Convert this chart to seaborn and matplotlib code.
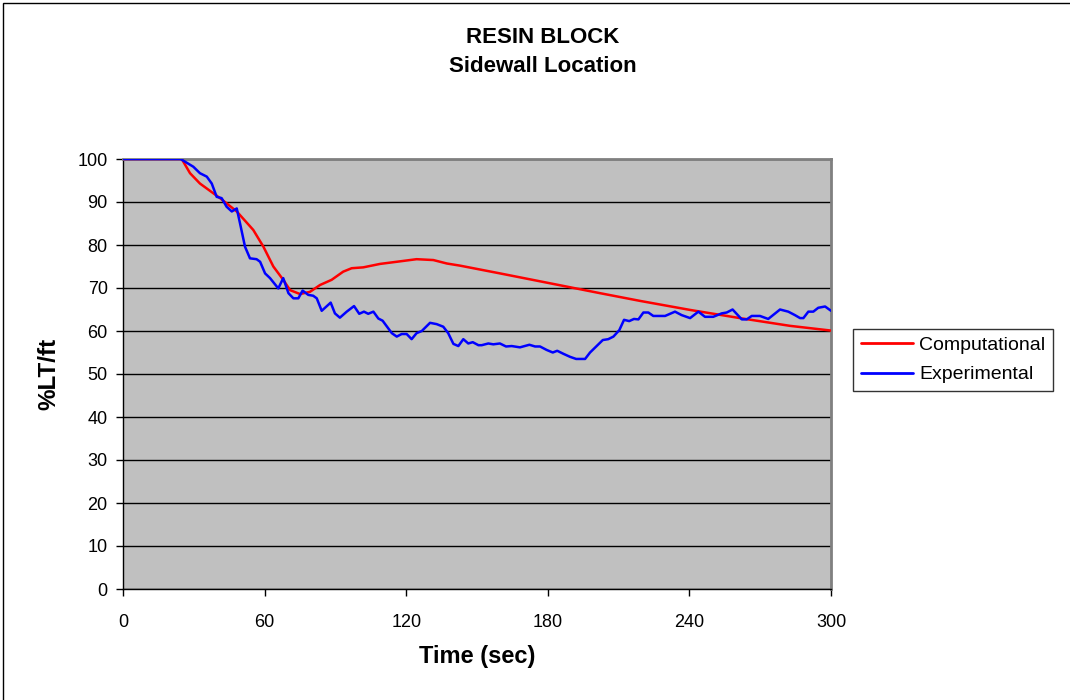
import matplotlib
matplotlib.use("Agg")
import matplotlib.pyplot as plt
import seaborn as sns
import pandas as pd
from matplotlib.patches import Rectangle

# --- data ---
comp_time = [0, 24.9, 28.4, 32.6, 41.1, 48.2, 55.2, 59.5, 63.7, 67.9, 70.8, 75.0,
             79.2, 83.5, 88.4, 93.3, 96.9, 101.8, 108.9, 116.0, 124.4, 131.5, 137.2,
             142.8, 159.7, 180.9, 202.1, 219.1, 240.3, 261.4, 282.6, 300]
comp_val = [100, 100, 96.7, 94.3, 90.9, 87.8, 83.5, 79.6, 75.0, 71.9, 69.5, 68.6,
            69.1, 70.7, 71.9, 73.8, 74.6, 74.8, 75.6, 76.1, 76.7, 76.5, 75.7,
            75.2, 73.4, 71.1, 68.8, 67.0, 64.9, 63.0, 61.2, 60.1]

exp_time = [0, 24.4, 29.8, 32.6, 35.5, 37.6, 39.7, 41.8, 43.9, 46.1, 48.2, 49.6,
            51.7, 53.8, 56.6, 58.1, 60.2, 62.3, 65.8, 67.9, 70.1, 72.2, 74.3, 76.1,
            78.5, 80.6, 82.1, 84.2, 88.0, 89.8, 91.9, 94.8, 97.9, 100.1, 102.1,
            103.9, 106.1, 108.2, 110.0, 113.9, 116.0, 118.1, 120.2, 122.3, 124.4,
            126.6, 130.1, 132.9, 135.7, 137.8, 140.0, 142.1, 144.2, 146.3, 148.2,
            150.6, 152.0, 154.8, 156.9, 159.7, 162.3, 164.7, 168.2, 172.2, 174.6,
            176.7, 179.5, 182.1, 184.0, 186.6, 189.4, 192.0, 195.8, 197.9, 200.7,
            203.3, 205.6, 207.8, 210.3, 212.3, 214.5, 216.5, 218.4, 220.5, 222.6,
            224.7, 229.7, 233.9, 236.7, 240.3, 243.8, 246.6, 250.1, 253.7, 255.8,
            258.3, 262.2, 264.3, 266.4, 269.9, 273.4, 278.4, 281.9, 284.7, 286.9,
            288.3, 290.4, 292.5, 294.6, 297.5, 300]
exp_val = [100, 100, 98.2, 96.7, 95.9, 94.3, 91.2, 90.9, 88.9, 87.8, 88.5, 85.0,
           79.6, 76.9, 76.7, 76.1, 73.4, 72.3, 69.9, 72.3, 68.8, 67.6, 67.6, 69.4,
           68.4, 68.2, 67.6, 64.7, 66.6, 64.1, 63.1, 64.5, 65.8, 64.0, 64.5,
           64.0, 64.5, 62.9, 62.4, 59.5, 58.7, 59.3, 59.3, 58.1, 59.5,
           60.0, 61.9, 61.6, 61.0, 59.5, 57.0, 56.5, 58.1, 57.1, 57.4,
           56.7, 56.7, 57.1, 56.9, 57.1, 56.4, 56.5, 56.2, 56.8, 56.4,
           56.4, 55.6, 55.0, 55.4, 54.7, 54.0, 53.5, 53.5, 55.0, 56.5,
           57.9, 58.1, 58.7, 60.2, 62.6, 62.3, 62.8, 62.7, 64.3, 64.3,
           63.5, 63.5, 64.5, 63.7, 63.0, 64.5, 63.3, 63.3, 64.1, 64.3,
           65.0, 62.7, 62.7, 63.5, 63.5, 62.8, 65.0, 64.5, 63.7, 63.0,
           63.0, 64.5, 64.5, 65.4, 65.7, 64.7]

x_ticks = [0, 60, 120, 180, 240, 300]
y_ticks = list(range(0, 101, 10))

comp_df = pd.DataFrame({"time": comp_time, "value": comp_val})
exp_df = pd.DataFrame({"time": exp_time, "value": exp_val})

sns.set_style("white")
plt.rcParams["font.family"] = ["Liberation Sans", "DejaVu Sans"]
plt.rcParams["text.color"] = "black"
plt.rcParams["axes.labelcolor"] = "black"
plt.rcParams["xtick.color"] = "black"
plt.rcParams["ytick.color"] = "black"

fig = plt.figure(figsize=(10.7, 7), dpi=100)
ax = fig.add_axes([123 / 1070, 1 - 589 / 700, 708 / 1070, 430 / 700])
ax.set_facecolor("#C0C0C0")

sns.lineplot(data=comp_df, x="time", y="value", ax=ax, color="#FF0000",
             linewidth=1.8, label="Computational", zorder=3)
sns.lineplot(data=exp_df, x="time", y="value", ax=ax, color="#0000FF",
             linewidth=1.8, label="Experimental", zorder=3)

ax.set_xlim(0, 300)
ax.set_ylim(0, 100)
ax.set_xticks(x_ticks)
ax.set_yticks(y_ticks)
ax.yaxis.grid(True, color="black", linewidth=1)
ax.xaxis.grid(False)
ax.set_axisbelow(True)
ax.tick_params(axis="both", direction="out", length=5, width=1, color="black",
               labelsize=13, bottom=True, left=True)
ax.tick_params(axis="x", pad=13)
ax.tick_params(axis="y", pad=6)

for side in ["left", "bottom"]:
    ax.spines[side].set_color("black")
    ax.spines[side].set_linewidth(1)
for side in ["top", "right"]:
    ax.spines[side].set_color("#808080")
    ax.spines[side].set_linewidth(2)

ax.set_xlabel("Time (sec)", fontsize=17, fontweight="bold")
ax.set_ylabel("%LT/ft", fontsize=17.5, fontweight="bold")
ax.xaxis.set_label_coords(477 / 1070, 1 - 657 / 700, transform=fig.transFigure)
ax.yaxis.set_label_coords(48.5 / 1070, 1 - 374 / 700, transform=fig.transFigure)
ax.xaxis.label.set_va("center")
ax.yaxis.label.set_va("center")

leg = ax.legend(loc="center left", bbox_to_anchor=(853 / 1070, 1 - 360 / 700),
                bbox_transform=fig.transFigure, borderaxespad=0, frameon=True,
                fancybox=False, fontsize=14, handlelength=2.7,
                borderpad=0.4, labelspacing=0.6, handletextpad=0.3)
leg.get_frame().set_edgecolor("black")
leg.get_frame().set_linewidth(1)
for line in leg.get_lines():
    line.set_linewidth(2)

fig.text(543 / 1070, 1 - 37.5 / 700, "RESIN BLOCK", ha="center", va="center",
         fontsize=16, fontweight="bold")
fig.text(543 / 1070, 1 - 67 / 700, "Sidewall Location", ha="center", va="center",
         fontsize=16, fontweight="bold")

# outer chart border
fig.patches.append(Rectangle((3 / 1070, -0.05), 1.2, 1 - 3 / 700 + 0.05,
                             transform=fig.transFigure, fill=False,
                             edgecolor="black", linewidth=1))

fig.savefig("out.png", dpi=100)
